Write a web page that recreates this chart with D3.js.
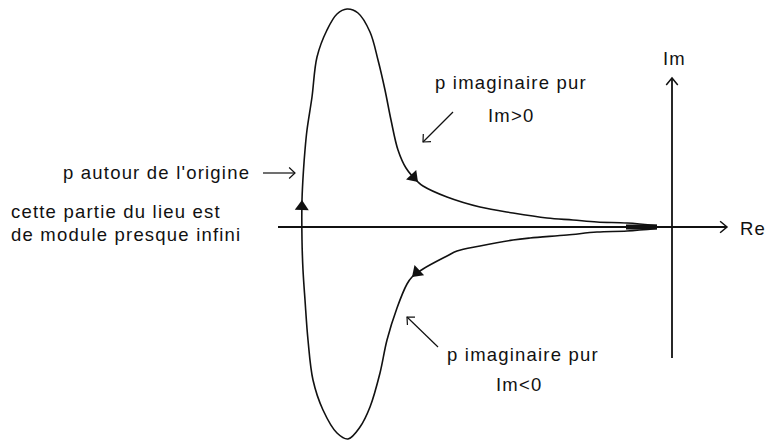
<!DOCTYPE html>
<html>
<head>
<meta charset="utf-8">
<script src="https://cdn.jsdelivr.net/npm/d3@7/dist/d3.min.js"></script>
<style>
  html, body { margin: 0; padding: 0; background: #fff; }
  svg { display: block; }
  text { font-family: "Liberation Sans", Arial, sans-serif; font-size: 18.5px; letter-spacing: 1.2px; fill: #111; }
</style>
</head>
<body>
<svg id="chart" width="766" height="441"></svg>
<script>
// Lieu de transfert H(jω) in the complex plane, [Re, Im], in traversal order:
// from the origin along the Im<0 branch, round the large loop, back along the Im>0 branch.
const lieu = [
  [-1.5, -0.15], [-4.5, -0.4], [-7.5, -0.5], [-10.5, -0.8], [-14.2, -1.1],
  [-15.9, -1.3], [-19.2, -1.9], [-21.5, -2.4], [-22.5, -2.9], [-24.9, -4.2],
  [-26.0, -5.0], [-26.5, -5.7], [-27.5, -8.1], [-28.5, -11.3], [-29.2, -14.6],
  [-30.2, -18.0], [-31.2, -20.0], [-32.4, -21.2], [-33.5, -20.6], [-34.9, -18.3],
  [-35.9, -15.3], [-36.4, -11.3], [-36.7, -7.3], [-36.9, -4.3], [-37.0, -1.3],
  [-37.0, 2.7], [-36.85, 5.7], [-36.7, 7.7], [-36.5, 9.7], [-36.0, 13.0],
  [-35.5, 17.0], [-34.5, 19.7], [-33.5, 21.3], [-32.5, 21.8], [-31.4, 21.4],
  [-30.2, 19.5], [-29.4, 16.7], [-28.7, 13.7], [-28.1, 10.7], [-27.4, 7.7],
  [-26.6, 5.9], [-25.4, 4.5], [-24.9, 4.1], [-22.5, 3.0], [-19.2, 2.0],
  [-15.9, 1.4], [-12.5, 0.9], [-9.9, 0.7], [-7.5, 0.5], [-4.5, 0.4], [-1.5, 0.15]
];

// Near the origin both branches merge onto the real axis
const segmentConfondu = [[-4.6, 0], [-1.5, 0]];

// Vertices of the locus that carry a direction arrow
const flechesLieu = [10, 25, 41];

// Axes extents [min, max]
const axeRe = [-39.4, 5.5];
const axeIm = [-13.1, 14.9];
const nomsAxes = ["Re", "Im"];

// Annotations: text lines and the point each pointer aims at ([Re, Im])
const annotations = [
  { lignes: ["p imaginaire pur", "Im>0"], cible: [-24.9, 8.5], depuis: [-21.9, 11.5] },
  { lignes: ["p imaginaire pur", "Im<0"], cible: [-26.5, -9.0], depuis: [-23.4, -12.0] },
  { lignes: ["p autour de l'origine"], cible: [-37.7, 5.4], depuis: [-40.9, 5.4] },
  { lignes: ["cette partie du lieu est", "de module presque infini"], cible: null, depuis: null }
];

const svg = d3.select("#chart");
const W = 766, H = 441;

const x = d3.scaleLinear().domain([-40, 10]).range([272, 772]);
const y = d3.scaleLinear().domain([22.7, -21.4]).range([0, 441]);

svg.append("rect").attr("width", W).attr("height", H).attr("fill", "#fff");

// open "V" arrow head at (tx,ty) pointing along angle a
function vHead(g, tx, ty, a, len, half, width) {
  const p1 = [tx - len * Math.cos(a - half), ty - len * Math.sin(a - half)];
  const p2 = [tx - len * Math.cos(a + half), ty - len * Math.sin(a + half)];
  g.append("path")
    .attr("d", `M${p1[0]},${p1[1]}L${tx},${ty}L${p2[0]},${p2[1]}`)
    .attr("fill", "none").attr("stroke", "#111").attr("stroke-width", width);
}

// Axes
const gAx = svg.append("g");
gAx.append("line")
  .attr("x1", x(axeRe[0])).attr("x2", x(axeRe[1]))
  .attr("y1", y(0)).attr("y2", y(0))
  .attr("stroke", "#111").attr("stroke-width", 1.8);
vHead(gAx, x(axeRe[1]), y(0), 0, 9, Math.PI / 4.5, 1.5);
gAx.append("line")
  .attr("x1", x(0)).attr("x2", x(0))
  .attr("y1", y(axeIm[0])).attr("y2", y(axeIm[1]))
  .attr("stroke", "#111").attr("stroke-width", 1.8);
vHead(gAx, x(0), y(axeIm[1]), -Math.PI / 2, 9, Math.PI / 4.5, 1.5);

gAx.append("text").attr("x", x(axeRe[1]) + 13).attr("y", y(0) + 8).text(nomsAxes[0]);
gAx.append("text").attr("x", x(0) - 9).attr("y", y(axeIm[1]) - 13).text(nomsAxes[1]);

// Locus
const line = d3.line()
  .x(d => x(d[0])).y(d => y(d[1]))
  .curve(d3.curveCatmullRom.alpha(0.5));

svg.append("path")
  .attr("d", line(lieu))
  .attr("fill", "none").attr("stroke", "#111").attr("stroke-width", 1.6);

svg.append("line")
  .attr("x1", x(segmentConfondu[0][0])).attr("x2", x(segmentConfondu[1][0]))
  .attr("y1", y(segmentConfondu[0][1])).attr("y2", y(segmentConfondu[1][1]))
  .attr("stroke", "#111").attr("stroke-width", 5);

// Direction arrows on the locus (filled triangles)
flechesLieu.forEach(i => {
  const p = lieu[i], a0 = lieu[i - 1], a1 = lieu[i + 1];
  const tx = x(p[0]), ty = y(p[1]);
  const ang = Math.atan2(y(a1[1]) - y(a0[1]), x(a1[0]) - x(a0[0]));
  const len = 10, half = 7;
  const bx = tx - len * Math.cos(ang), by = ty - len * Math.sin(ang);
  const nx = -Math.sin(ang), ny = Math.cos(ang);
  svg.append("path")
    .attr("d", `M${tx},${ty}L${bx + half * nx},${by + half * ny}L${bx - half * nx},${by - half * ny}Z`)
    .attr("fill", "#111");
});

// Annotations
const gAn = svg.append("g");
const textePos = [
  { x: 435, y: 89, dy: 33, dx: [0, 53] },
  { x: 447, y: 361, dy: 30, dx: [0, 49] },
  { x: 63, y: 179, dy: 0, dx: [0] },
  { x: 11, y: 218, dy: 23, dx: [0, 0] }
];
annotations.forEach((an, k) => {
  const pos = textePos[k];
  an.lignes.forEach((t, j) => {
    gAn.append("text").attr("x", pos.x + pos.dx[j]).attr("y", pos.y + j * pos.dy).text(t);
  });
  if (an.cible) {
    const tx = x(an.cible[0]), ty = y(an.cible[1]);
    const fx = x(an.depuis[0]), fy = y(an.depuis[1]);
    gAn.append("line")
      .attr("x1", fx).attr("y1", fy).attr("x2", tx).attr("y2", ty)
      .attr("stroke", "#111").attr("stroke-width", 1.2);
    vHead(gAn, tx, ty, Math.atan2(ty - fy, tx - fx), 8, Math.PI / 4.2, 1.2);
  }
});
</script>
</body>
</html>
